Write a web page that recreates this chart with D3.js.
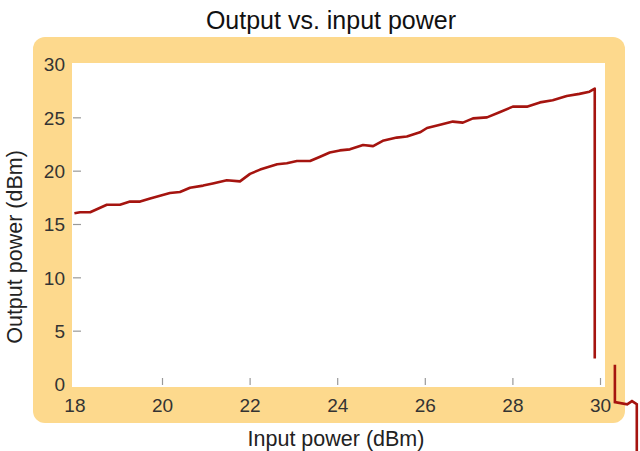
<!DOCTYPE html>
<html>
<head>
<meta charset="utf-8">
<script src="https://cdn.jsdelivr.net/npm/d3@7"></script>
<style>
body{margin:0;background:#fff;}
svg{display:block;font-family:"Liberation Sans",Arial,sans-serif;}
</style>
</head>
<body>
<svg id="chart" width="640" height="451"></svg>
<script>
const title = "Output vs. input power";
const xLabel = "Input power (dBm)";
const yLabel = "Output power (dBm)";
const xTicks = [18, 20, 22, 24, 26, 28, 30];
const yTicks = [0, 5, 10, 15, 20, 25, 30];
// main trace (input dBm, output dBm)
const mainX = [18.0,18.13,18.36,18.74,19.04,19.27,19.5,19.73,20.18,20.41,20.64,20.94,21.16,21.48,21.78,22.01,22.24,22.63,22.85,23.08,23.38,23.61,23.83,24.06,24.29,24.59,24.82,25.04,25.36,25.59,25.89,26.05,26.35,26.64,26.87,27.1,27.42,27.72,28.01,28.33,28.63,28.92,29.24,29.53,29.76,29.88,29.88];
const mainY = [16.0,16.1,16.1,16.8,16.8,17.1,17.1,17.4,17.9,18.0,18.4,18.6,18.8,19.1,19.0,19.7,20.1,20.6,20.7,20.9,20.9,21.3,21.7,21.9,22.0,22.4,22.3,22.8,23.1,23.2,23.6,24.0,24.3,24.6,24.5,24.9,25.0,25.5,26.0,26.0,26.4,26.6,27.0,27.2,27.4,27.7,2.4];
// stray trace beyond the axis
const tailX = [30.34,30.34,30.62,30.73,30.84,30.84];
const tailY = [1.8,-1.7,-1.9,-1.6,-1.9,-6.5];

const svg = d3.select("#chart");
const x = d3.scaleLinear().domain([18, 30]).range([74.4, 600]);
const y = d3.scaleLinear().domain([0, 30]).range([384, 64]);
const FONT = "Liberation Sans, Arial, sans-serif";

// frame
svg.append("rect").attr("x", 33).attr("y", 37).attr("width", 592).attr("height", 386)
  .attr("rx", 12).attr("fill", "#fdd98d");
svg.append("rect").attr("x", 72).attr("y", 63).attr("width", 533).attr("height", 324)
  .attr("fill", "#ffffff");

// title
svg.append("text").attr("x", 331).attr("y", 29).attr("text-anchor", "middle")
  .attr("font-size", 25).attr("fill", "#111").text(title);

// x axis
const xAxis = d3.axisBottom(x).tickValues(xTicks).tickSize(0).tickPadding(0).tickFormat(d3.format("d"));
const gx = svg.append("g").attr("transform", "translate(0,387)").call(xAxis);
gx.select(".domain").remove();
gx.selectAll(".tick text").attr("dy", 0).attr("y", 25).attr("font-size", 19).attr("fill", "#333")
  .attr("font-family", FONT);
gx.selectAll(".tick").filter(d => d !== 18).append("line")
  .attr("y1", -9).attr("y2", -2).attr("stroke", "#999").attr("stroke-width", 1.2);

// y axis
const yAxis = d3.axisLeft(y).tickValues(yTicks).tickSize(0).tickPadding(0).tickFormat(d3.format("d"));
const gy = svg.append("g").attr("transform", "translate(65,0)").call(yAxis);
gy.select(".domain").remove();
gy.selectAll(".tick text").attr("x", 0).attr("dy", "0.36em").attr("font-size", 19).attr("fill", "#333")
  .attr("font-family", FONT);
gy.selectAll(".tick").filter(d => d !== 0 && d !== 30).append("line")
  .attr("x1", 8).attr("x2", 16).attr("stroke", "#999").attr("stroke-width", 1.2);

// axis titles
svg.append("text").attr("x", 336).attr("y", 446).attr("text-anchor", "middle")
  .attr("font-size", 21.5).attr("fill", "#222").text(xLabel);
svg.append("text").attr("transform", "translate(22,247) rotate(-90)").attr("text-anchor", "middle")
  .attr("font-size", 21.5).attr("fill", "#222").text(yLabel);

// lines
const line = d3.line().x(d => x(d[0])).y(d => y(d[1]));
const mainPts = mainX.map((v, i) => [v, mainY[i]]);
const tailPts = tailX.map((v, i) => [v, tailY[i]]);
svg.append("path").datum(mainPts).attr("d", line).attr("fill", "none")
  .attr("stroke", "#a5140f").attr("stroke-width", 2.6).attr("stroke-linejoin", "round");
svg.append("path").datum(tailPts).attr("d", line).attr("fill", "none")
  .attr("stroke", "#a5140f").attr("stroke-width", 2.6).attr("stroke-linejoin", "miter");
</script>
</body>
</html>
